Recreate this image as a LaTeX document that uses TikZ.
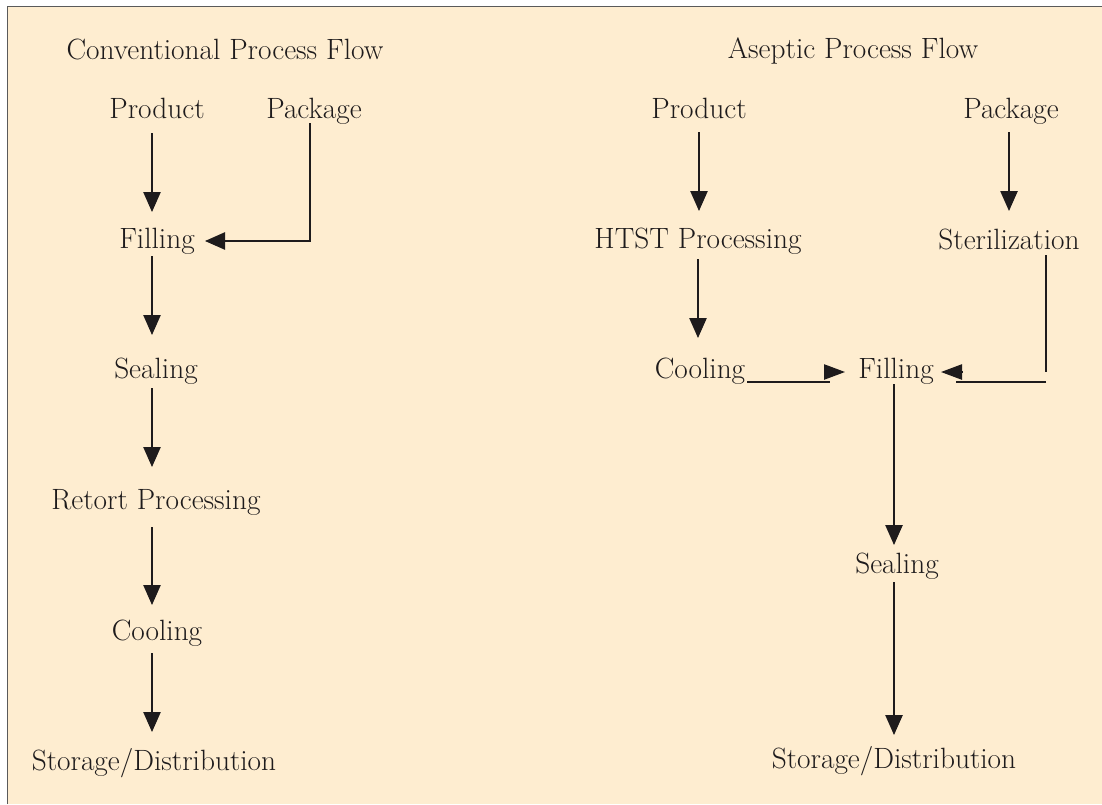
\documentclass[tikz,border=0pt]{standalone}
\usetikzlibrary{arrows.meta,calc}
\definecolor{bg}{RGB}{254,237,208}
\definecolor{ink}{RGB}{30,27,28}
\definecolor{framec}{RGB}{90,90,90}
\begin{document}
\begin{tikzpicture}[x=0.75pt,y=-0.75pt,
  lbl/.style={anchor=base,inner sep=0pt,outer sep=0pt,text=ink,font=\fontsize{22}{26}\selectfont},
  flow/.style={draw=ink,line width=1pt},
  arr/.style={flow,-{Triangle[width=13pt,length=15pt]}},
  heavy/.style={draw=ink,line width=2pt},
  htip/.style={draw=ink,line width=1pt,-{Triangle[width=11.5pt,length=15.75pt]}}]

\useasboundingbox (0,0) rectangle (1102,804);
\fill[white] (0,0) rectangle (1102,804);
\fill[bg] (7.5,6.5) rectangle (1102,804);
\draw[framec,line width=1.1pt] (7.5,804) -- (7.5,6.5) -- (1102,6.5);

% left column
\node[lbl] (titleL) at (225,59) {Conventional Process Flow};
\node[lbl] (prodL) at (157,118) {Product};
\node[lbl] (packL) at (314,118) {Package};
\node[lbl] (fillL) at (157,248) {Filling};
\node[lbl] (sealL) at (156,378) {Sealing};
\node[lbl] (retL)  at (156,509) {Retort Processing};
\node[lbl] (coolL) at (157,640) {Cooling};
\node[lbl] (storL) at (154,770) {Storage/Distribution};

\draw[arr] ($(prodL.base)+(-5,15)$) -- ($(fillL.base)+(-5,-36)$);
\draw[arr] ($(packL.base)+(-4,5)$) |- ($(fillL.base)+(48,-7)$);
\draw[arr] ($(fillL.base)+(-5,8)$) -- ($(sealL.base)+(-4,-43)$);
\draw[arr] ($(sealL.base)+(-4,10)$) -- ($(retL.base)+(-4,-42)$);
\draw[arr] ($(retL.base)+(-4,18)$) -- ($(coolL.base)+(-5,-35)$);
\draw[arr] ($(coolL.base)+(-5,13)$) -- ($(storL.base)+(-2,-38)$);

% right column
\node[lbl] (titleR) at (853,58) {Aseptic Process Flow};
\node[lbl] (prodR) at (699,118) {Product};
\node[lbl] (packR) at (1011,118) {Package};
\node[lbl] (htst)  at (698,248) {HTST Processing};
\node[lbl] (ster)  at (1009,249) {Sterilization};
\node[lbl] (coolR) at (700,378) {Cooling};
\node[lbl] (fillR) at (896,378) {Filling};
\node[lbl] (sealR) at (897,573) {Sealing};
\node[lbl] (storR) at (894,768) {Storage/Distribution};

\draw[arr] ($(prodR.base)+(0,14)$) -- ($(htst.base)+(1,-37)$);
\draw[arr] ($(packR.base)+(-2,14)$) -- ($(ster.base)+(0,-38)$);
\draw[arr] ($(htst.base)+(0,11)$) -- ($(coolR.base)+(-2,-40)$);

\draw[heavy] ($(coolR.base)+(47,4)$) -- ($(fillR.base)+(-66,4)$);
\draw[htip] ($(fillR.base)+(-72,-6)$) -- ($(fillR.base)+(-51,-6)$);

\draw[flow] ($(ster.base)+(37,6)$) -- ($(ster.base)+(37,123)$);
\draw[heavy] ($(ster.base)+(37,133)$) -- ($(fillR.base)+(60,4)$);
\draw[htip] ($(fillR.base)+(66,-6)$) -- ($(fillR.base)+(45,-6)$);

\draw[arr] ($(fillR.base)+(-2,6)$) -- ($(sealR.base)+(-3,-28)$);
\draw[arr] ($(sealR.base)+(-3,9)$) -- ($(storR.base)+(0,-33)$);
\end{tikzpicture}
\end{document}
